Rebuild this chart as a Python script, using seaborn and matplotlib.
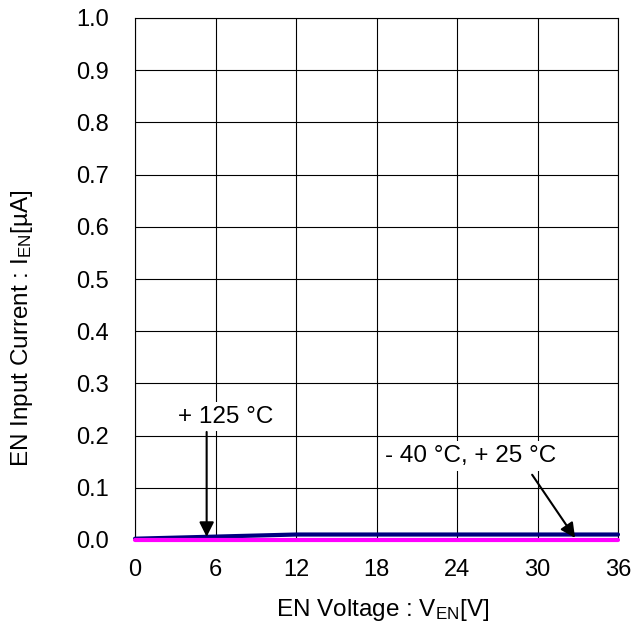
"""
EN input current vs EN voltage characteristic
"""

import numpy as np
import pandas as pd
import matplotlib
matplotlib.use('Agg')
import matplotlib.pyplot as plt
import seaborn as sns

# EN voltage sweep points [V]
v_en = [0, 6, 12, 18, 24, 30, 36]

# EN input current [uA] per temperature
i_125c = [0.0025, 0.0065, 0.0105, 0.0105, 0.0105, 0.0105, 0.0105]
i_m40c = [0.0, 0.0, 0.0, 0.0, 0.0, 0.0, 0.0]

series_names = ['+125 °C', '-40 °C, +25 °C']
series_colors = ['#000080', '#FF00FF']
series_widths = [3.0, 3.0]

x_ticks = [0, 6, 12, 18, 24, 30, 36]
y_ticks = [0.0, 0.1, 0.2, 0.3, 0.4, 0.5, 0.6, 0.7, 0.8, 0.9, 1.0]

FS_TICK = 17
FS_LABEL = 17.5
FS_NOTE = 17.5

sns.set_style('white')
plt.rcParams['font.family'] = ['Liberation Sans', 'DejaVu Sans']
plt.rcParams['mathtext.fontset'] = 'custom'
plt.rcParams['mathtext.rm'] = 'Liberation Sans'
plt.rcParams['mathtext.it'] = 'Liberation Sans'
plt.rcParams['text.color'] = 'black'
plt.rcParams['axes.labelcolor'] = 'black'

fig = plt.figure(figsize=(6.41, 6.28), dpi=100)
ax = fig.add_axes([135 / 641, 1 - 540 / 628, 483 / 641, 522 / 628])

# draw each series so the magenta one sits on top
for name, ys, col, lw in zip(series_names, [i_125c, i_m40c], series_colors, series_widths):
    sns.lineplot(x=v_en, y=ys, color=col, linewidth=lw, ax=ax,
                 zorder=3, clip_on=False, label=name, legend=False)

ax.set_xlim(0, 36)
ax.set_ylim(0, 1.0)
ax.set_xticks(x_ticks)
ax.set_yticks(y_ticks)
ax.set_yticklabels([f'{t:.1f}' for t in y_ticks])
ax.grid(True, color='black', linewidth=0.8)
ax.tick_params(length=0, labelsize=FS_TICK, colors='black')
ax.tick_params(axis='y', pad=19)
ax.tick_params(axis='x', pad=13.5)
for s in ax.spines.values():
    s.set_color('black')
    s.set_linewidth(0.8)

ax.set_xlabel('EN Voltage : V$_{\\mathrm{EN}}$[V]', fontsize=FS_LABEL, labelpad=11.5)
ax.set_ylabel('EN Input Current : I$_{\\mathrm{EN}}$[µA]', fontsize=FS_LABEL, labelpad=29)
ax.yaxis.label.set_y(0.406)
ax.xaxis.label.set_x(0.512)

# annotations with white boxes, arrows drawn separately
box = dict(boxstyle='square,pad=0.15', fc='white', ec='none')
arrow = dict(arrowstyle='-|>', color='black', lw=1.5,
             mutation_scale=22, shrinkA=0, shrinkB=0)
ax.text(6.78, 0.236, '+ 125 °C', ha='center', va='center', fontsize=FS_NOTE,
        bbox=box, zorder=4)
ax.annotate('', xy=(5.34, 0.006), xytext=(5.34, 0.207),
            arrowprops=arrow, zorder=5)
ax.text(25.0, 0.161, '- 40 °C, + 25 °C', ha='center', va='center',
        fontsize=FS_NOTE, bbox=box, zorder=4)
ax.annotate('', xy=(32.8, 0.004), xytext=(29.6, 0.125),
            arrowprops=arrow, zorder=5)

plt.savefig('out.png', dpi=100)
